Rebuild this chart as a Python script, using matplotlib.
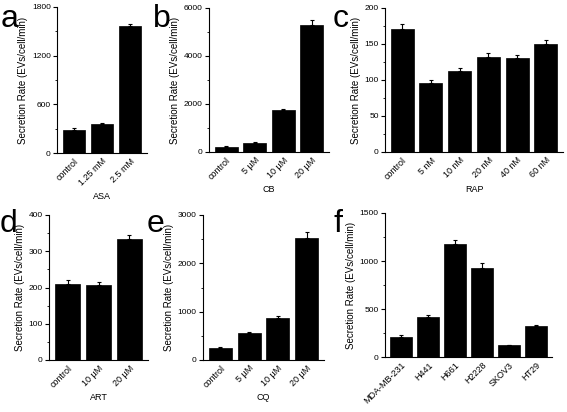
import matplotlib
matplotlib.use("Agg")
import matplotlib.pyplot as plt
from matplotlib.ticker import AutoMinorLocator

plt.rcParams['font.family'] = ['Liberation Sans', 'DejaVu Sans']
plt.rcParams['font.size'] = 6.5

# Panel data
a_labels = ['control', '1.25 mM', '2.5 mM']
a_values = [280, 355, 1570]
a_err = [30, 20, 15]

b_labels = ['control', '5 µM', '10 µM', '20 µM']
b_values = [222, 375, 1750, 5280]
b_err = [25, 35, 45, 230]

c_labels = ['control', '5 nM', '10 nM', '20 nM', '40 nM', '60 nM']
c_values = [171, 96, 113, 132, 131, 150]
c_err = [7, 4, 4, 6, 4, 5]

d_labels = ['control', '10 µM', '20 µM']
d_values = [210, 208, 333]
d_err = [10, 7, 13]

e_labels = ['control', '5 µM', '10 µM', '20 µM']
e_values = [255, 552, 862, 2531]
e_err = [20, 30, 45, 110]

f_labels = ['MDA-MB-231', 'H441', 'H661', 'H2228', 'SKOV3', 'HT29']
f_values = [212, 420, 1181, 927, 122, 319]
f_err = [20, 15, 35, 50, 7, 10]

W, H = 567, 412
fig = plt.figure(figsize=(W / 100, H / 100), dpi=100)


def panel(box, labels, values, err, xlabel, ymax, yticks, letter, letter_xy):
    left, right, top, bottom = box
    ax = fig.add_axes([left / W, 1 - bottom / H, (right - left) / W, (bottom - top) / H])
    x = range(len(values))
    ax.bar(x, values, width=0.8, color='black', edgecolor='black', linewidth=0.5,
           yerr=[[0] * len(err), err], capsize=1.5,
           error_kw=dict(ecolor='black', elinewidth=0.8, capthick=0.8))
    ax.set_xlim(-0.6, len(values) - 0.4)
    ax.set_ylim(0, ymax)
    ax.set_yticks(yticks)
    ax.yaxis.set_minor_locator(AutoMinorLocator(2))
    ax.set_xticks(list(x))
    ax.set_xticklabels(labels, rotation=45, ha='right', rotation_mode='anchor',
                       fontsize=6.5)
    ax.tick_params(axis='x', length=0, pad=2.5)
    ax.tick_params(axis='y', which='major', length=3, width=0.8, pad=1.5,
                   labelsize=6)
    ax.tick_params(axis='y', which='minor', length=1.8, width=0.6)
    ax.spines['top'].set_visible(False)
    ax.spines['right'].set_visible(False)
    ax.spines['left'].set_linewidth(0.8)
    ax.spines['bottom'].set_linewidth(0.8)
    ax.set_xlabel(xlabel, labelpad=3)
    ax.set_ylabel('Secretion Rate (EVs/cell/min)', labelpad=2.5, fontsize=7)
    fig.text(letter_xy[0] / W, 1 - letter_xy[1] / H, letter, fontsize=23,
             ha='left', va='baseline')
    return ax


panel((57, 147, 7, 153), a_labels, a_values, a_err, 'ASA', 1800,
      [0, 600, 1200, 1800], 'a', (1, 27))
panel((209, 329, 8, 152), b_labels, b_values, b_err, 'CB', 6000,
      [0, 2000, 4000, 6000], 'b', (153, 27))
panel((385, 563, 8, 152), c_labels, c_values, c_err, 'RAP', 200,
      [0, 50, 100, 150, 200], 'c', (333, 27))
panel((49, 148, 215, 360), d_labels, d_values, d_err, 'ART', 400,
      [0, 100, 200, 300, 400], 'd', (0, 232))
panel((203, 324, 215, 360), e_labels, e_values, e_err, 'CQ', 3000,
      [0, 1000, 2000, 3000], 'e', (147, 232))
panel((385, 552, 213, 357), f_labels, f_values, f_err, '', 1500,
      [0, 500, 1000, 1500], 'f', (333, 232))

fig.savefig('out.png', dpi=100)
